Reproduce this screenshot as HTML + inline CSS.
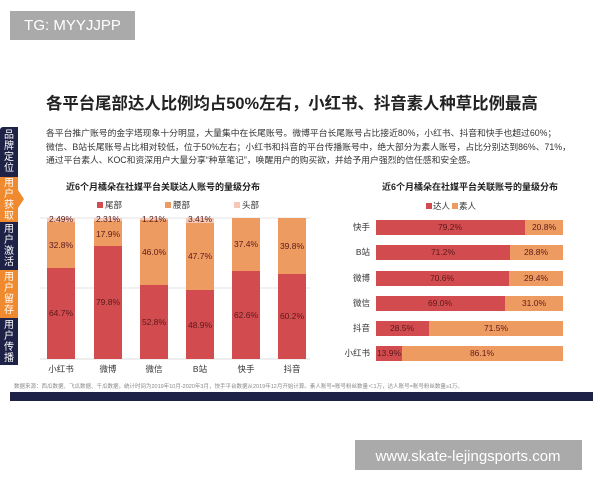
<!DOCTYPE html>
<html><head><meta charset="utf-8"><style>
body{margin:0;width:600px;height:480px;background:#fff;position:relative;overflow:hidden;font-family:"Liberation Sans","Noto Sans CJK SC",sans-serif;}
.a{position:absolute;white-space:nowrap;}
.tab{position:absolute;left:0;width:18px;color:#fff;font-size:10px;line-height:11px;text-align:center;display:flex;align-items:center;justify-content:center;}
</style></head><body>
<div class="a" style="left:10px;top:11px;width:125px;height:29px;background:#aaa;color:#fff;font-size:15px;line-height:29px;text-align:center;">TG: MYYJJPP</div>
<div class="a" style="left:46px;top:90px;font-size:16.4px;font-weight:bold;color:#222;">各平台尾部达人比例均占50%左右，小红书、抖音素人种草比例最高</div>
<div class="a" style="left:46px;top:127px;font-size:8.8px;line-height:13.5px;color:#333;">各平台推广账号的金字塔现象十分明显，大量集中在长尾账号。微博平台长尾账号占比接近80%，小红书、抖音和快手也超过60%；<br>微信、B站长尾账号占比相对较低，位于50%左右；小红书和抖音的平台传播账号中，绝大部分为素人账号，占比分别达到86%、71%，<br>通过平台素人、KOC和资深用户大量分享“种草笔记”，唤醒用户的购买欲，并给予用户强烈的信任感和安全感。</div>
<div class="tab" style="top:127px;height:50px;background:#1e2246;border-radius:3px 0 0 0;">品<br>牌<br>定<br>位</div>
<div class="tab" style="top:177px;height:45px;background:#ef8a2f;">用<br>户<br>获<br>取</div>
<div class="a" style="left:18px;top:190px;width:0;height:0;border-top:9px solid transparent;border-bottom:9px solid transparent;border-left:6px solid #ef8a2f;"></div>
<div class="tab" style="top:222px;height:48px;background:#1e2246;">用<br>户<br>激<br>活</div>
<div class="tab" style="top:270px;height:48px;background:#ef8a2f;">用<br>户<br>留<br>存</div>
<div class="tab" style="top:318px;height:47px;background:#1e2246;">用<br>户<br>传<br>播</div>

<svg class="a" style="left:0;top:0" width="600" height="480" font-family="Liberation Sans,Noto Sans CJK SC,sans-serif">
<text x="163" y="190" font-size="9" font-weight="bold" text-anchor="middle" fill="#222">近6个月橘朵在社媒平台关联达人账号的量级分布</text>
<rect x="97" y="202" width="6" height="6" fill="#d14b4f"/><text x="105" y="208" font-size="8.5" fill="#333">尾部</text>
<rect x="165" y="202" width="6" height="6" fill="#ee9b62"/><text x="173" y="208" font-size="8.5" fill="#333">腰部</text>
<rect x="234" y="202" width="6" height="6" fill="#f5c9b5"/><text x="242" y="208" font-size="8.5" fill="#333">头部</text>
<line x1="40" y1="218" x2="310" y2="218" stroke="#e4e4e4"/><line x1="40" y1="288" x2="310" y2="288" stroke="#e4e4e4"/><line x1="40" y1="359" x2="310" y2="359" stroke="#ddd"/>
<g font-size="8.5" text-anchor="middle" fill="#5a1a1a">
<rect x="47" y="268" width="28" height="91" fill="#d14b4f"/><rect x="47" y="222" width="28" height="46" fill="#ee9b62"/><rect x="47" y="218" width="28" height="4" fill="#f5c9b5"/>
<text x="61" y="316">64.7%</text><text x="61" y="248">32.8%</text><text x="61" y="222">2.49%</text>
<rect x="94" y="246" width="28" height="113" fill="#d14b4f"/><rect x="94" y="221" width="28" height="25" fill="#ee9b62"/><rect x="94" y="218" width="28" height="3" fill="#f5c9b5"/>
<text x="108" y="305">79.8%</text><text x="108" y="237">17.9%</text><text x="108" y="222">2.31%</text>
<rect x="140" y="285" width="28" height="74" fill="#d14b4f"/><rect x="140" y="220" width="28" height="65" fill="#ee9b62"/><rect x="140" y="218" width="28" height="2" fill="#f5c9b5"/>
<text x="154" y="325">52.8%</text><text x="154" y="255">46.0%</text><text x="154" y="222">1.21%</text>
<rect x="186" y="290" width="28" height="69" fill="#d14b4f"/><rect x="186" y="223" width="28" height="67" fill="#ee9b62"/><rect x="186" y="218" width="28" height="5" fill="#f5c9b5"/>
<text x="200" y="328">48.9%</text><text x="200" y="259">47.7%</text><text x="200" y="222">3.41%</text>
<rect x="232" y="271" width="28" height="88" fill="#d14b4f"/><rect x="232" y="218" width="28" height="53" fill="#ee9b62"/>
<text x="246" y="318">62.6%</text><text x="246" y="247">37.4%</text>
<rect x="278" y="274" width="28" height="85" fill="#d14b4f"/><rect x="278" y="218" width="28" height="56" fill="#ee9b62"/>
<text x="292" y="319">60.2%</text><text x="292" y="249">39.8%</text>
</g>
<g font-size="8.5" text-anchor="middle" fill="#333">
<text x="61" y="372">小红书</text><text x="108" y="372">微博</text><text x="154" y="372">微信</text><text x="200" y="372">B站</text><text x="246" y="372">快手</text><text x="292" y="372">抖音</text>
</g>
<text x="470" y="190" font-size="9" font-weight="bold" text-anchor="middle" fill="#222">近6个月橘朵在社媒平台关联账号的量级分布</text>
<rect x="426" y="203" width="6" height="6" fill="#d14b4f"/><text x="433" y="209" font-size="8.5" fill="#333">达人</text>
<rect x="452" y="203" width="6" height="6" fill="#ee9b62"/><text x="459" y="209" font-size="8.5" fill="#333">素人</text>
<g font-size="8.5" fill="#5a1a1a">
<g text-anchor="end" fill="#333"><text x="370" y="230">快手</text><text x="370" y="255">B站</text><text x="370" y="281">微博</text><text x="370" y="306">微信</text><text x="370" y="331">抖音</text><text x="370" y="356">小红书</text></g>
<rect x="376" y="220" width="149" height="15" fill="#d14b4f"/><rect x="525" y="220" width="38" height="15" fill="#ee9b62"/>
<text x="450" y="230" text-anchor="middle">79.2%</text><text x="544" y="230" text-anchor="middle">20.8%</text>
<rect x="376" y="245" width="134" height="15" fill="#d14b4f"/><rect x="510" y="245" width="53" height="15" fill="#ee9b62"/>
<text x="443" y="255" text-anchor="middle">71.2%</text><text x="536" y="255" text-anchor="middle">28.8%</text>
<rect x="376" y="271" width="133" height="15" fill="#d14b4f"/><rect x="509" y="271" width="54" height="15" fill="#ee9b62"/>
<text x="442" y="281" text-anchor="middle">70.6%</text><text x="536" y="281" text-anchor="middle">29.4%</text>
<rect x="376" y="296" width="129" height="15" fill="#d14b4f"/><rect x="505" y="296" width="58" height="15" fill="#ee9b62"/>
<text x="440" y="306" text-anchor="middle">69.0%</text><text x="534" y="306" text-anchor="middle">31.0%</text>
<rect x="376" y="321" width="53" height="15" fill="#d14b4f"/><rect x="429" y="321" width="134" height="15" fill="#ee9b62"/>
<text x="402" y="331" text-anchor="middle">28.5%</text><text x="496" y="331" text-anchor="middle">71.5%</text>
<rect x="376" y="346" width="26" height="15" fill="#d14b4f"/><rect x="402" y="346" width="161" height="15" fill="#ee9b62"/>
<text x="389" y="356" text-anchor="middle">13.9%</text><text x="482" y="356" text-anchor="middle">86.1%</text>
</g>
<text x="14" y="388" font-size="5.5" fill="#888">数据来源：西瓜数据、飞瓜数据、千瓜数据，统计时间为2019年10月-2020年3月，快手平台数据从2019年12月开始计算。素人账号=账号粉丝数量＜1万，达人账号=账号粉丝数量≥1万。</text>
<rect x="10" y="392" width="583" height="9" fill="#1e2246"/>
<rect x="355" y="440" width="227" height="30" fill="#aaa"/>
<text x="468" y="461" font-size="15" fill="#fff" text-anchor="middle">www.skate-lejingsports.com</text>
</svg>
</body></html>
